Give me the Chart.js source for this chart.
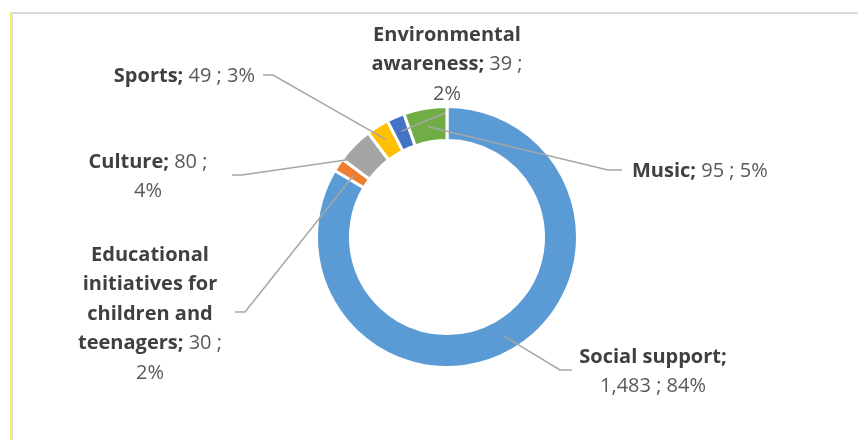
<!DOCTYPE html>
<html lang="en">
<head>
<meta charset="UTF-8">
<title>Volunteering areas</title>
<script src="https://cdn.jsdelivr.net/npm/chart.js"></script>
<style>
  body { margin: 0; background: #fff; }
  canvas { display: block; }
</style>
</head>
<body>
<canvas id="areasChart" width="858" height="440"></canvas>
<script>
const categories = ['Social support', 'Educational initiatives for children and teenagers', 'Culture', 'Sports', 'Environmental awareness', 'Music'];
const counts = [1483, 30, 80, 49, 39, 95];
const percentLabels = ['84%', '2%', '4%', '3%', '2%', '5%'];
const sliceColors = ['#5B9BD5', '#ED7D31', '#A5A5A5', '#FFC000', '#4472C4', '#70AD47'];

// where each label sits, how wide it may wrap, the leader path and where it meets the slice
// at: [fraction along the slice angle, fraction across the ring]
const labelLayout = [
    { x: 653, y: 357, align: 'center', wrap: 165, from: [[572, 370], [560, 370]], at: [0.5, 0.5] },
    { x: 150, y: 255, align: 'center', wrap: 165, from: [[235, 312], [245, 312]], at: [0.5, 0.45] },
    { x: 148, y: 162, align: 'center', wrap: 140, from: [[232, 175], [242, 175]], at: [0.07, 0.87] },
    { x: 255, y: 76, align: 'right', wrap: 300, from: [[263, 75], [273, 75]], at: [0.5, 0.55] },
    { x: 447, y: 35, align: 'center', wrap: 170, from: [[445, 113]], at: [0.5, 0.55] },
    { x: 632, y: 171, align: 'left', wrap: 300, from: [[622, 170], [608, 170]], at: [0.5, 0.45] }
];

const lineHeight = 29.5;
const boldFont = 'bold 20px "Open Sans"';
const plainFont = '20px "Open Sans"';

function labelTokens(i) {
    const words = categories[i].split(' ');
    const tokens = words.map(w => ({ text: w, bold: true }));
    tokens[tokens.length - 1].text += ';';
    tokens.push({ text: counts[i].toLocaleString('en-US'), bold: false });
    tokens.push({ text: ';', bold: false });
    tokens.push({ text: percentLabels[i], bold: false });
    return tokens;
}

function wrapTokens(ctx, tokens, maxWidth) {
    const lines = [];
    let line = [];
    let width = 0;
    tokens.forEach(t => {
        ctx.font = t.bold ? boldFont : plainFont;
        const w = ctx.measureText(t.text).width;
        const space = line.length ? ctx.measureText(' ').width : 0;
        if (line.length && width + space + w > maxWidth) {
            lines.push({ tokens: line, width: width });
            line = [];
            width = 0;
        }
        line.push({ text: t.text, bold: t.bold, w: w });
        width += (line.length > 1 ? ctx.measureText(' ').width : 0) + w;
    });
    if (line.length) lines.push({ tokens: line, width: width });
    return lines;
}

const framePlugin = {
    id: 'frame',
    beforeDraw(chart) {
        const ctx = chart.ctx;
        ctx.save();
        ctx.fillStyle = '#DADADA';
        ctx.fillRect(10, 12, 848, 2);
        ctx.fillStyle = '#F3EE6E';
        ctx.fillRect(10, 12, 2, 428);
        ctx.fillStyle = '#DDDDDD';
        ctx.fillRect(12, 14, 1, 426);
        ctx.restore();
    }
};

const labelPlugin = {
    id: 'sliceLabels',
    afterDatasetsDraw(chart) {
        const ctx = chart.ctx;
        const meta = chart.getDatasetMeta(0);
        ctx.save();
        meta.data.forEach((arc, i) => {
            const lay = labelLayout[i];
            const p = arc.getProps(['x', 'y', 'startAngle', 'endAngle', 'innerRadius', 'outerRadius'], true);
            const a = p.startAngle + lay.at[0] * (p.endAngle - p.startAngle);
            const r = p.innerRadius + lay.at[1] * (p.outerRadius - p.innerRadius);

            // leader line
            ctx.strokeStyle = '#A6A6A6';
            ctx.lineWidth = 1.5;
            ctx.beginPath();
            ctx.moveTo(lay.from[0][0], lay.from[0][1]);
            lay.from.slice(1).forEach(pt => ctx.lineTo(pt[0], pt[1]));
            ctx.lineTo(p.x + Math.cos(a) * r, p.y + Math.sin(a) * r);
            ctx.stroke();

            // label text, name bold then value and share
            const lines = wrapTokens(ctx, labelTokens(i), lay.wrap);
            ctx.textBaseline = 'middle';
            ctx.textAlign = 'left';
            lines.forEach((ln, k) => {
                let x = lay.x;
                if (lay.align === 'center') x -= ln.width / 2;
                if (lay.align === 'right') x -= ln.width;
                const y = lay.y + k * lineHeight;
                ln.tokens.forEach((t, j) => {
                    ctx.font = t.bold ? boldFont : plainFont;
                    if (j > 0) x += ctx.measureText(' ').width;
                    ctx.fillStyle = t.bold ? '#404040' : '#595959';
                    ctx.fillText(t.text, x, y);
                    x += t.w;
                });
            });
        });
        ctx.restore();
    }
};

new Chart(document.getElementById('areasChart'), {
    type: 'doughnut',
    data: {
        labels: categories,
        datasets: [{
            data: counts,
            backgroundColor: sliceColors,
            borderColor: '#FFFFFF',
            borderWidth: 3
        }]
    },
    options: {
        responsive: false,
        animation: false,
        cutout: '74%',
        layout: { padding: { left: 315, right: 279, top: 105, bottom: 71 } },
        plugins: {
            legend: { display: false },
            tooltip: { enabled: false }
        }
    },
    plugins: [framePlugin, labelPlugin]
});
</script>
</body>
</html>
